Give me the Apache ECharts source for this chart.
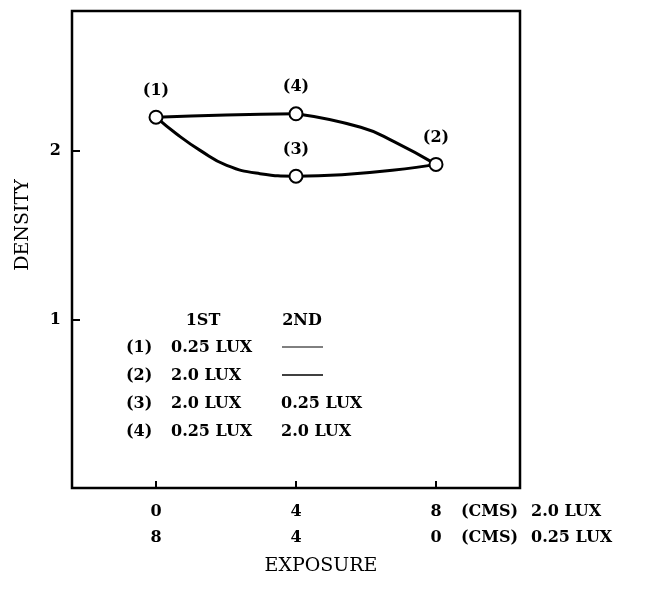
<!DOCTYPE html>
<html>
<head>
<meta charset="utf-8">
<script src="https://cdn.jsdelivr.net/npm/echarts@6/dist/echarts.min.js"></script>
<style>html,body{margin:0;padding:0;background:#fff;}#c{width:646px;height:600px;}</style>
</head>
<body>
<div id="c"></div>
<script>
// ---- data ----
const pointLabels = ['(1)', '(2)', '(3)', '(4)'];
const pointX = [0, 8, 4, 4];
const pointY = [2.20, 1.92, 1.85, 2.22];

// curve (1) -> (4)
const upperLeftX = [0, 2, 4];
const upperLeftY = [2.20, 2.213, 2.22];
// curve (4) -> (2)
const upperRightX = [4, 5.85, 6.8, 8];
const upperRightY = [2.22, 2.14, 2.055, 1.92];
// curve (1) -> (3) -> (2)
const lowerX = [0, 0.59, 1.26, 2.02, 2.97, 4, 8];
const lowerY = [2.20, 2.10, 2.003, 1.914, 1.865, 1.85, 1.92];

const xTickValues = [0, 4, 8];
const xTopLabels = ['0', '4', '8'];      // 2.0 LUX exposure
const xBottomLabels = ['8', '4', '0'];   // 0.25 LUX exposure
const xRowUnits = ['(CMS)', '(CMS)'];
const xRowNames = ['2.0 LUX', '0.25 LUX'];
const yTickValues = [1, 2];

const legendHeader = ['1ST', '2ND'];
const legendIds = ['(1)', '(2)', '(3)', '(4)'];
const legendFirst = ['0.25 LUX', '2.0 LUX', '2.0 LUX', '0.25 LUX'];
const legendSecond = ['', '', '0.25 LUX', '2.0 LUX'];

const xName = 'EXPOSURE';
const yName = 'DENSITY';

// ---- chart ----
const FONT = "'DejaVu Serif', 'Liberation Serif', serif";
const INK = '#000';
const FS = 16;
const FW = 'bold';
const NAME_FS = 19;
const chart = echarts.init(document.getElementById('c'), null, {renderer: 'canvas'});

function txt(text, x, y, align, size, weight) {
  return {type: 'text', x: x, y: y,
    style: {text: text, font: (weight || FW) + ' ' + (size || FS) + 'px ' + FONT, fill: INK,
      align: align || 'left', verticalAlign: 'middle'}};
}

const graphics = [];
// axis names
const yn = txt(yName, 23, 225, 'center', NAME_FS, 'normal');
yn.rotation = Math.PI / 2;
graphics.push(yn);
graphics.push(txt(xName, 321, 566, 'center', NAME_FS, 'normal'));
// x label rows suffixes
const rowY = [511.5, 537.5];
for (let i = 0; i < 2; i++) {
  graphics.push(txt(xRowUnits[i], 461, rowY[i], 'left'));
  graphics.push(txt(xRowNames[i], 531, rowY[i], 'left'));
}
// legend table
const headerY = 321, rowStart = 348, rowGap = 28;
graphics.push(txt(legendHeader[0], 203, headerY, 'center'));
graphics.push(txt(legendHeader[1], 302, headerY, 'center'));
for (let i = 0; i < legendIds.length; i++) {
  const y = rowStart + i * rowGap;
  graphics.push(txt(legendIds[i], 126, y, 'left'));
  graphics.push(txt(legendFirst[i], 171, y, 'left'));
  if (legendSecond[i]) {
    graphics.push(txt(legendSecond[i], 281, y, 'left'));
  } else {
    graphics.push({type: 'line', shape: {x1: 282, y1: y - 1, x2: 323, y2: y - 1},
      style: {stroke: INK, lineWidth: i === 0 ? 1 : 1.5}});
  }
}

const lineStyle = {color: '#000', width: 3};
const toPairs = (xs, ys) => xs.map((x, i) => [x, ys[i]]);
chart.setOption({
  animation: false,
  backgroundColor: '#fff',
  grid: {left: 72, right: 126, top: 11, bottom: 112, show: true, borderColor: '#000', borderWidth: 2.5, backgroundColor: 'transparent'},
  xAxis: {
    type: 'value', min: -2.4, max: 10.4,
    axisLine: {show: false, onZero: false},
    splitLine: {show: false},
    axisTick: {show: false},
    axisLabel: {
      show: true, customValues: xTickValues, margin: 11,
      fontFamily: FONT, fontSize: FS, fontWeight: FW, color: INK, lineHeight: 26,
      formatter: function (v) {
        const i = xTickValues.indexOf(v);
        return i < 0 ? '' : xTopLabels[i] + '\n' + xBottomLabels[i];
      }
    }
  },
  yAxis: {
    type: 'value', min: 0, max: 2.83,
    axisLine: {show: false, onZero: false},
    splitLine: {show: false},
    axisTick: {show: true, inside: true, length: 8, customValues: yTickValues, lineStyle: {color: '#000', width: 2}},
    axisLabel: {show: true, customValues: yTickValues, margin: 11, fontFamily: FONT, fontSize: FS, fontWeight: FW, color: INK,
      formatter: function (v) { return String(v); }}
  },
  series: [
    {type: 'line', smooth: 0.5, showSymbol: false, lineStyle: lineStyle, z: 2,
      data: toPairs(upperLeftX, upperLeftY)},
    {type: 'line', smooth: 0.5, showSymbol: false, lineStyle: lineStyle, z: 2,
      data: toPairs(upperRightX, upperRightY)},
    {type: 'line', smooth: 0.5, showSymbol: false, lineStyle: lineStyle, z: 2,
      data: toPairs(lowerX, lowerY)},
    // inward tick marks on the bottom axis (drawn as short vertical bars at the x tick values)
    {type: 'scatter', zlevel: 1, z: 10, silent: true, clip: false,
      symbol: 'rect', symbolSize: [2, 7], symbolOffset: [0, -3.5],
      itemStyle: {color: '#000', opacity: 1},
      data: xTickValues.map(v => [v, 0.0001])},
    {type: 'scatter', symbol: 'circle', symbolSize: 13, z: 5,
      itemStyle: {color: '#fff', borderColor: '#000', borderWidth: 2, opacity: 1},
      label: {show: true, position: 'top', distance: 11, fontFamily: FONT, fontSize: FS, fontWeight: FW, color: INK,
        formatter: function (p) { return pointLabels[p.dataIndex]; }},
      data: toPairs(pointX, pointY)}
  ],
  graphic: graphics
});
</script>
</body>
</html>
